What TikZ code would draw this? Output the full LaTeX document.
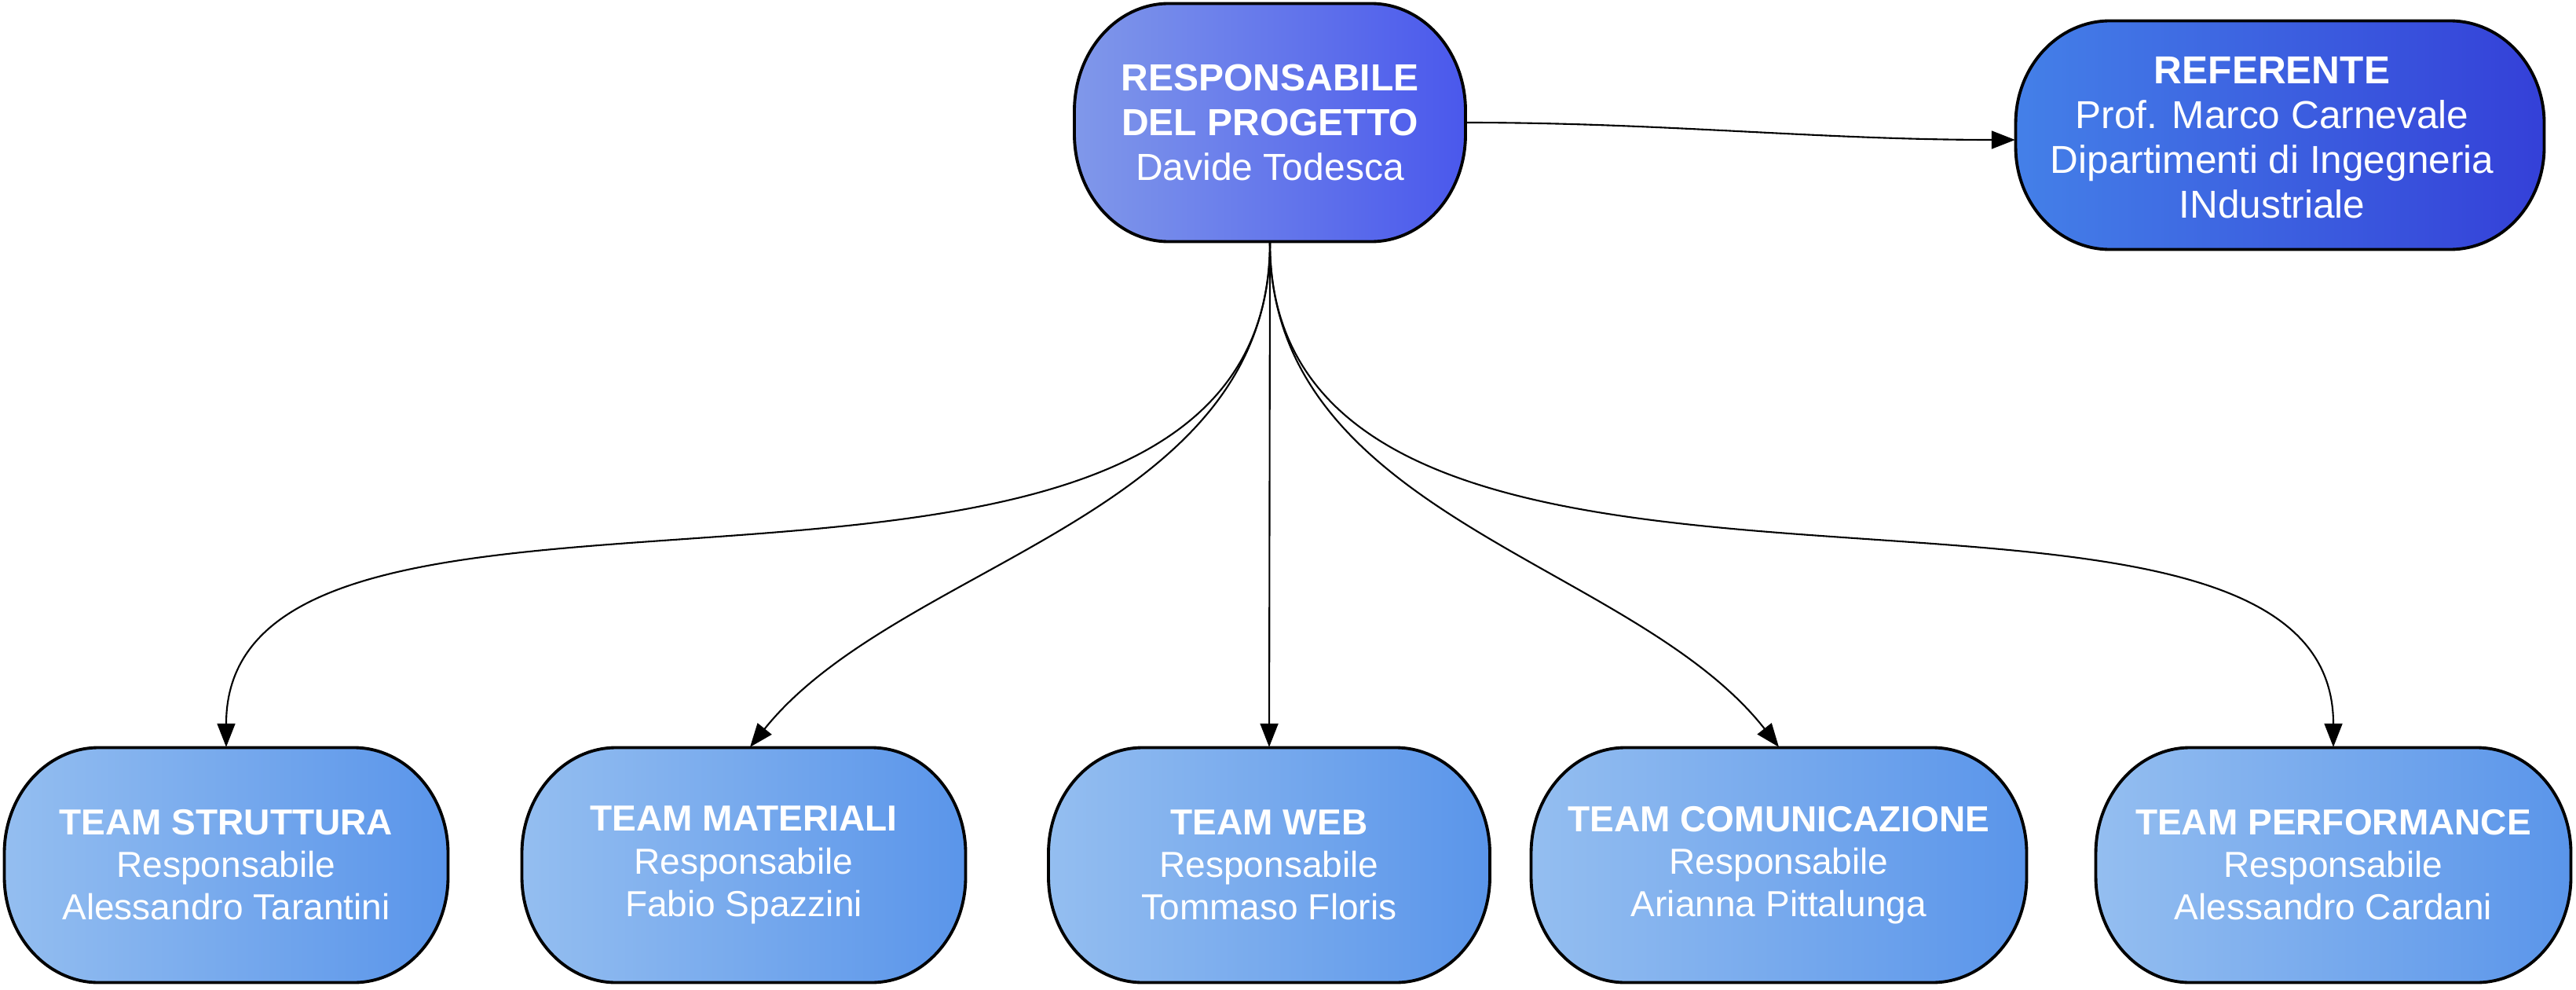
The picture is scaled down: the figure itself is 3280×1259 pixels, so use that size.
\documentclass[tikz,border=0pt]{standalone}
\usepackage{fontspec}
\setmainfont{Liberation Sans}
\usetikzlibrary{arrows.meta,calc}
\definecolor{topL}{HTML}{8098EA}
\definecolor{topR}{HTML}{4A58EC}
\definecolor{refL}{HTML}{4480E8}
\definecolor{refR}{HTML}{3440D8}
\definecolor{botL}{HTML}{94BEF0}
\definecolor{botR}{HTML}{5A95EA}
% #1 cx, #2 cy, #3 w, #4 h, #5 style
\newcommand\capsule[5]{%
  \path[#5] ({#1-#3/2+120},{#2+#4/2}) -- ++({#3-240},0)
    arc[start angle=90,end angle=0,x radius=12mm,y radius={(#4/2-15)*0.1mm}]
    -- ++(0,-30)
    arc[start angle=0,end angle=-90,x radius=12mm,y radius={(#4/2-15)*0.1mm}]
    -- ++({-(#3-240)},0)
    arc[start angle=-90,end angle=-180,x radius=12mm,y radius={(#4/2-15)*0.1mm}]
    -- ++(0,30)
    arc[start angle=180,end angle=90,x radius=12mm,y radius={(#4/2-15)*0.1mm}]
    -- cycle;}
\tikzset{
  boxborder/.style={draw=black,line width=1.1pt},
  topshade/.style={boxborder,left color=topL,right color=topR},
  refshade/.style={boxborder,left color=refL,right color=refR},
  botshade/.style={boxborder,left color=botL,right color=botR},
  bigtext/.style={text=white,align=center,inner sep=0pt,font=\fontsize{13.66}{16.2}\selectfont},
  reftext/.style={text=white,align=center,inner sep=0pt,font=\fontsize{14.1}{16.2}\selectfont},
  bottext/.style={text=white,align=center,inner sep=0pt,font=\fontsize{13.1}{15.4}\selectfont},
  arr/.style={draw=black,line width=0.6pt,-{Triangle[length=8.5pt,width=6.5pt]}}
}
\begin{document}
\begin{tikzpicture}[x=0.1mm,y=0.1mm]
\useasboundingbox (0,0) rectangle (3280,1259);
% shapes
\capsule{1617}{1103}{498}{303}{topshade}
\capsule{2903}{1087}{673}{291}{refshade}
\capsule{288}{158}{565}{299}{botshade}
\capsule{947}{158}{565}{299}{botshade}
\capsule{1616}{158}{562}{299}{botshade}
\capsule{2265}{158}{631}{299}{botshade}
\capsule{2971}{158}{605}{299}{botshade}
% nodes
\node[bigtext,minimum width=49.8mm,minimum height=30.3mm] (resp) at (1617,1103)
  {\textbf{RESPONSABILE}\\\textbf{DEL PROGETTO}\\Davide Todesca};
\node[reftext,minimum width=67.3mm,minimum height=29.1mm] (ref) at (2903,1087) {};
\node[reftext] (reftxt) at (2893,1084)
  {\textbf{REFERENTE}\\Prof. Marco Carnevale\\Dipartimenti di Ingegneria\\INdustriale};
\node[bottext,minimum width=56.5mm,minimum height=29.9mm] (t1) at (288,158)
  {\textbf{TEAM STRUTTURA}\\Responsabile\\Alessandro Tarantini};
\node[bottext,minimum width=56.5mm,minimum height=29.9mm] (t2) at (947,158)
  {\textbf{TEAM MATERIALI}\\Responsabile\\Fabio Spazzini};
\node[bottext,minimum width=56.2mm,minimum height=29.9mm] (t3) at (1616,158)
  {\textbf{TEAM WEB}\\Responsabile\\Tommaso Floris};
\node[bottext,minimum width=63.1mm,minimum height=29.9mm] (t4) at (2265,158)
  {\textbf{TEAM COMUNICAZIONE}\\Responsabile\\Arianna Pittalunga};
\node[bottext,minimum width=60.5mm,minimum height=29.9mm] (t5) at (2971,158)
  {\textbf{TEAM PERFORMANCE}\\Responsabile\\Alessandro Cardani};
% connectors
\draw[arr] (resp.east) .. controls +(250,0) and +(-250,0) .. ([yshift=-0.6mm]ref.west);
\draw[arr] (resp.south) .. controls +(0,-600) and +(0,455) .. (t1.north);
\draw[arr] (resp.south) .. controls +(0,-350) and +(190,237) .. ([xshift=0.8mm]t2.north);
\draw[arr] (resp.south) -- (t3.north);
\draw[arr] (resp.south) .. controls +(0,-350) and +(-186,237) .. (t4.north);
\draw[arr] (resp.south) .. controls +(0,-600) and +(0,455) .. (t5.north);
\end{tikzpicture}
\end{document}
